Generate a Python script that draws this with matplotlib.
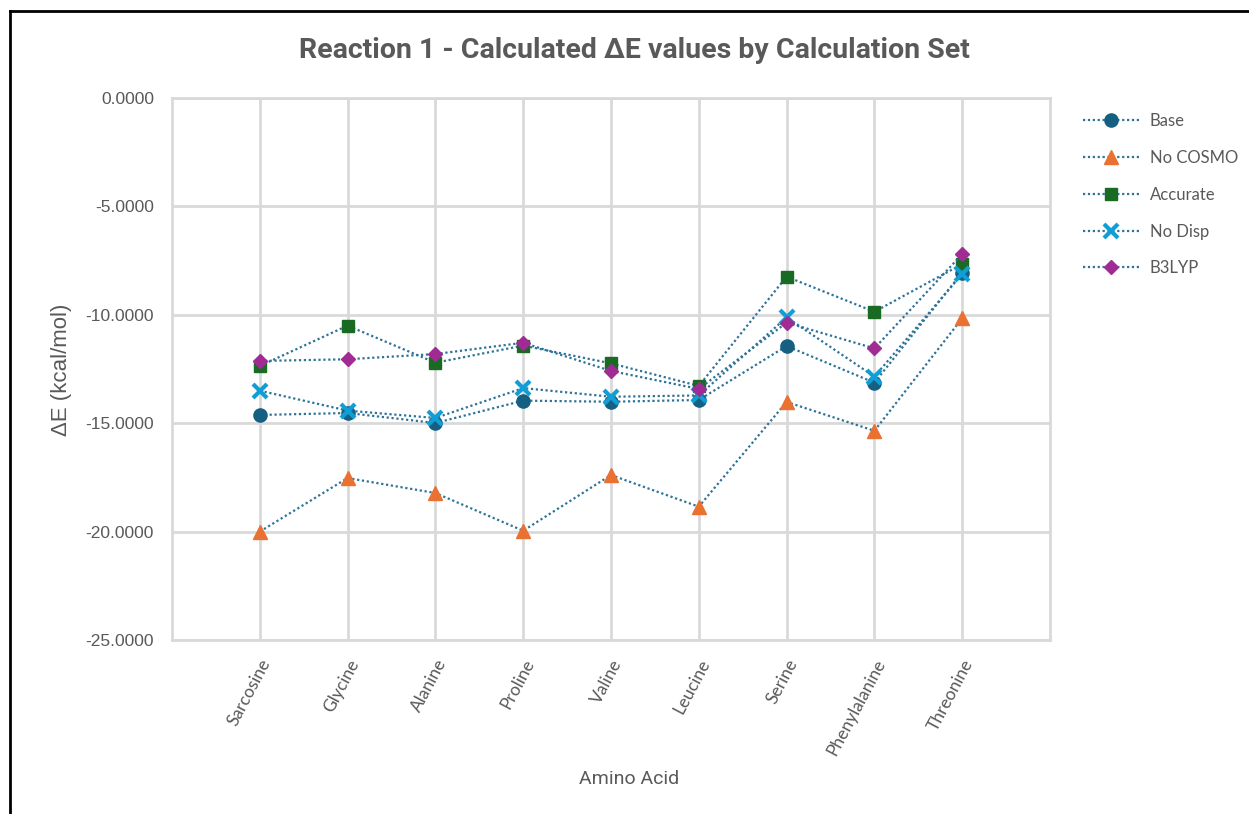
import matplotlib
matplotlib.use("Agg")
import matplotlib.pyplot as plt
from matplotlib.lines import Line2D

acids = ["Sarcosine", "Glycine", "Alanine", "Proline", "Valine",
         "Leucine", "Serine", "Phenylalanine", "Threonine"]

base      = [-14.62, -14.53, -14.99, -13.96, -14.01, -13.93, -11.44, -13.13, -8.05]
no_cosmo  = [-20.00, -17.53, -18.22, -19.96, -17.39, -18.85, -14.02, -15.35, -10.16]
accurate  = [-12.36, -10.50, -12.21, -11.42, -12.24, -13.28, -8.24, -9.86, -7.66]
no_disp   = [-13.50, -14.42, -14.76, -13.38, -13.78, -13.72, -10.12, -12.85, -8.12]
b3lyp     = [-12.13, -12.05, -11.81, -11.29, -12.59, -13.42, -10.36, -11.55, -7.20]

series_names = ["Base", "No COSMO", "Accurate", "No Disp", "B3LYP"]

txt = "#595959"
grid = "#d9d9d9"
line_col = "#2d7398"

fig = plt.figure(figsize=(12.49, 8.14), dpi=100)
ax = fig.add_axes([172/1249, 1-640/814, (1050-172)/1249, (640-98)/814])

x = list(range(len(acids)))
styles = [
    (base,     "o", "#156082", 9.5, {}),
    (no_cosmo, "^", "#E97132", 10.0, {}),
    (accurate, "s", "#196B24", 9.0, {}),
    (no_disp,  "x", "#0F9ED5", 9.5, {"markeredgewidth": 3.0}),
    (b3lyp,    "D", "#A02B93", 7.0, {}),
]
for (vals, m, c, ms, kw), name in zip(styles, series_names):
    ax.plot(x, vals, linestyle=(0, (1, 1.2)), color=line_col, linewidth=1.6,
            marker=m, markersize=ms, markerfacecolor=c, markeredgecolor=c,
            label=name, **kw)

ax.set_xlim(-1, 9)
ax.set_ylim(-25, 0)
ax.set_yticks([0, -5, -10, -15, -20, -25])
ax.set_yticklabels([f"{v:.4f}" for v in [0, -5, -10, -15, -20, -25]],
                   fontsize=12.5, color=txt, family="Liberation Sans")
ax.set_xticks(x)
ax.set_xticklabels(acids, rotation=62, ha="right", va="top",
                   rotation_mode="anchor", fontsize=12.5, color=txt, family="Lato")
ax.tick_params(axis="both", length=0)
ax.tick_params(axis="y", pad=13)
ax.tick_params(axis="x", pad=12)
ax.grid(True, color=grid, linewidth=2)
ax.set_axisbelow(True)
for s in ax.spines.values():
    s.set_color(grid)
    s.set_linewidth(2)

fig.text(634/1249, 1-50/814, "Reaction 1 - Calculated ΔE values by Calculation Set",
         ha="center", va="center", fontsize=20.5, fontweight="bold",
         color=txt, family="Roboto")
fig.text(62/1249, 1-370/814, "ΔE (kcal/mol)", rotation=90, ha="center",
         va="center", fontsize=16, color=txt, family="Liberation Sans")
fig.text(629/1249, 1-779/814, "Amino Acid", ha="center", va="center",
         fontsize=14, color=txt, family="Roboto")

ax.legend(loc="upper left", bbox_to_anchor=(1083/1249, 1-113/814),
          bbox_transform=fig.transFigure, frameon=False,
          labelspacing=1.25, handlelength=3.4, handletextpad=0.6,
          borderpad=0, borderaxespad=0, labelcolor=txt,
          prop={"family": "Lato", "size": 12})

# outer chart border (top and left visible)
fig.add_artist(Line2D([10/1249, 10/1249], [1-11/814, -0.1], color="black",
                      linewidth=2, transform=fig.transFigure))
fig.add_artist(Line2D([10/1249, 1.1], [1-11/814, 1-11/814], color="black",
                      linewidth=2, transform=fig.transFigure))

fig.savefig("out.png", dpi=100)
